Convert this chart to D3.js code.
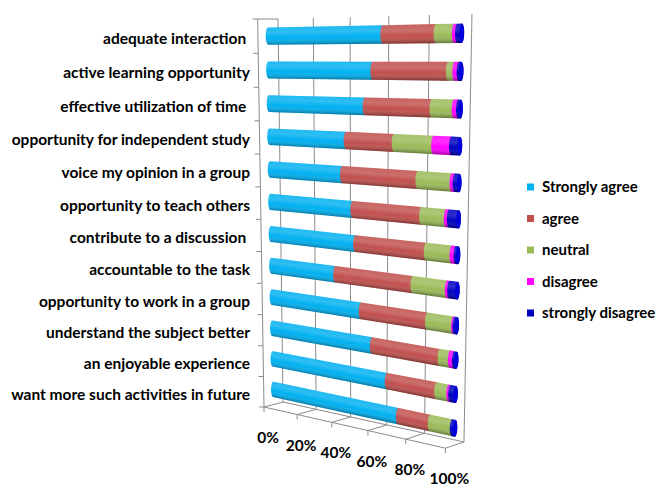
<!DOCTYPE html>
<html>
<head>
<meta charset="utf-8">
<script src="https://cdn.jsdelivr.net/npm/d3@7"></script>
<style>
  body { margin: 0; background: #fff; }
  text { font-family: Lato, "Open Sans", sans-serif; font-weight: bold; fill: #000; }
</style>
</head>
<body>
<div id="chart"></div>
<script>
// Chart data
var categories = [
  'adequate interaction ',
  'active learning opportunity',
  'effective utilization of time ',
  'opportunity for independent study',
  'voice my opinion in a group',
  'opportunity to teach others',
  'contribute to a discussion ',
  'accountable to the task',
  'opportunity to work in a group',
  'understand the subject better',
  'an enjoyable experience',
  'want more such activities in future'
];
var seriesNames = ['Strongly agree', 'agree', 'neutral', 'disagree', 'strongly disagree'];
var stronglyAgree = [62, 57, 53, 43, 41, 46.5, 48, 37, 51, 57, 65, 71];
var agree = [26, 37, 33.5, 25, 39, 35.5, 36.5, 41, 34.5, 35, 25.5, 16.5];
var neutral = [8.5, 3, 10.5, 19.5, 16.5, 12, 12.5, 17, 12.8, 5, 6, 11];
var disagree = [1.5, 2, 2, 8.5, 1.5, 1.5, 2, 1.2, 0.7, 2, 1, 0];
var stronglyDisagree = [2, 1, 1, 4, 2, 4.5, 1, 3.8, 1, 1, 2.5, 1.5];
var tickValues = [0, 20, 40, 60, 80, 100];

var seriesValues = [stronglyAgree, agree, neutral, disagree, stronglyDisagree];
var colors = ['#00b0f0', '#c0504d', '#9bbb59', '#ff00ff', '#0000c0'];

var svgWidth = 660;
var svgHeight = 485;

var svg = d3.select('#chart').append('svg')
  .attr('width', svgWidth)
  .attr('height', svgHeight);

var defs = svg.append('defs');

// 3D perspective: world X = value, Y = up, Z = toward the viewer
var vpX = [-1270, 59], vpY = [358, 6127], vpZ = [1739, 19], origin = [283, 402];
var lamX = -0.10438, lamY = -0.0627, lamZ = -0.01288;

function project(X, Y, Z) {
  var px = lamX * vpX[0] * X + lamY * vpY[0] * Y + lamZ * vpZ[0] * Z + origin[0];
  var py = lamX * vpX[1] * X + lamY * vpY[1] * Y + lamZ * vpZ[1] * Z + origin[1];
  var w = lamX * X + lamY * Y + lamZ * Z + 1;
  return [px / w, py / w];
}

// scales
var xScale = d3.scaleLinear().domain([0, 100]).range([0, 1]);
var yScale = d3.scaleBand().domain(categories).range([1, 0]);

var gridColor = '#8c8c8c';
var grid = svg.append('g')
  .attr('stroke', gridColor)
  .attr('stroke-width', 1)
  .attr('fill', 'none');

function seg(a, b) {
  grid.append('line')
    .attr('x1', a[0]).attr('y1', a[1])
    .attr('x2', b[0]).attr('y2', b[1]);
}

// back wall gridlines + floor depth lines
tickValues.forEach(function (t) {
  var X = xScale(t);
  seg(project(X, 0, 0), project(X, 1, 0));
  seg(project(X, 0, 0), project(X, 0, 1));
  var f = project(X, 0, 1);
  seg(f, [f[0], f[1] + 5]);
});
// floor edges
seg(project(0, 0, 0), project(1, 0, 0));
seg(project(0, 0, 1), project(1, 0, 1));
// left wall
seg(project(0, 0, 1), project(0, 1, 1));
seg(project(0, 1, 1), project(0, 1, 0));
d3.range(categories.length + 1).forEach(function (k) {
  var p = project(0, k / categories.length, 1);
  seg([p[0] - 5, p[1]], p);
});

// cylinders
var rY = 0.021, rZ = 0.12, zc = 0.5;
var nSteps = 28;

function ring(X, yc) {
  return d3.range(nSteps).map(function (k) {
    var a = 2 * Math.PI * k / nSteps;
    return project(X, yc + rY * Math.cos(a), zc + rZ * Math.sin(a));
  });
}

function hullPath(X0, X1, yc) {
  var hull = d3.polygonHull(ring(X0, yc).concat(ring(X1, yc)));
  return 'M' + hull.join('L') + 'Z';
}

var barsGroup = svg.append('g');

categories.forEach(function (cat, i) {
  var yc = yScale(cat) + yScale.bandwidth() / 2;
  var g = barsGroup.append('g');
  var acc = 0;
  var lastColor = colors[0];
  seriesValues.forEach(function (vals, s) {
    var v = vals[i];
    if (v <= 0) return;
    var X0 = xScale(acc), X1 = xScale(acc + v);
    acc += v;
    lastColor = colors[s];
    g.append('path')
      .attr('d', hullPath(X0, X1, yc))
      .attr('fill', colors[s]);
  });

  // shading across the cylinder
  var c0 = project(0, yc, zc), c1 = project(1, yc, zc);
  var dx = c1[0] - c0[0], dy = c1[1] - c0[1];
  var len = Math.sqrt(dx * dx + dy * dy);
  var nx = -dy / len, ny = dx / len;
  if (ny > 0) { nx = -nx; ny = -ny; }
  var mid = project(0.5, yc, zc);
  var top = project(0.5, yc + rY, zc), bot = project(0.5, yc - rY, zc);
  var h = Math.abs((top[0] - bot[0]) * nx + (top[1] - bot[1]) * ny) / 2;
  var grad = defs.append('linearGradient')
    .attr('id', 'shade' + i)
    .attr('gradientUnits', 'userSpaceOnUse')
    .attr('x1', mid[0] + nx * h).attr('y1', mid[1] + ny * h)
    .attr('x2', mid[0] - nx * h).attr('y2', mid[1] - ny * h);
  grad.append('stop').attr('offset', 0).attr('stop-color', '#fff').attr('stop-opacity', 0.12);
  grad.append('stop').attr('offset', 0.3).attr('stop-color', '#fff').attr('stop-opacity', 0.18);
  grad.append('stop').attr('offset', 0.6).attr('stop-color', '#fff').attr('stop-opacity', 0);
  grad.append('stop').attr('offset', 1).attr('stop-color', '#000').attr('stop-opacity', 0.32);
  g.append('path')
    .attr('d', hullPath(0, 1, yc))
    .attr('fill', 'url(#shade' + i + ')');

  // end cap
  var cap = ring(1, yc);
  g.append('path')
    .attr('d', 'M' + cap.join('L') + 'Z')
    .attr('fill', d3.color(lastColor).brighter(0.35));
});

// category labels
svg.append('g').selectAll('text')
  .data(categories)
  .enter()
  .append('text')
  .attr('x', 250)
  .attr('y', function (d) {
    return project(0, yScale(d) + yScale.bandwidth() / 2, 1)[1] + 2.5;
  })
  .attr('dy', '0.35em')
  .attr('text-anchor', 'end')
  .attr('font-size', '15.5px')
  .style('white-space', 'pre')
  .text(function (d) { return d; });

// value tick labels
svg.append('g').selectAll('text')
  .data(tickValues)
  .enter()
  .append('text')
  .attr('x', function (d) { return project(xScale(d), 0, 1)[0] + 4; })
  .attr('y', function (d) { return project(xScale(d), 0, 1)[1] + 36; })
  .attr('text-anchor', 'middle')
  .attr('font-size', '15.5px')
  .text(function (d) { return d + '%'; });

// legend
var legend = svg.append('g').attr('transform', 'translate(527, 187)');
seriesNames.forEach(function (name, s) {
  var row = legend.append('g').attr('transform', 'translate(0,' + (s * 31.5) + ')');
  row.append('rect')
    .attr('x', 0).attr('y', -3.5)
    .attr('width', 7).attr('height', 7)
    .attr('fill', colors[s]);
  row.append('text')
    .attr('x', 15).attr('y', 0)
    .attr('dy', '0.35em')
    .attr('font-size', '15px')
    .text(name);
});
</script>
</body>
</html>
